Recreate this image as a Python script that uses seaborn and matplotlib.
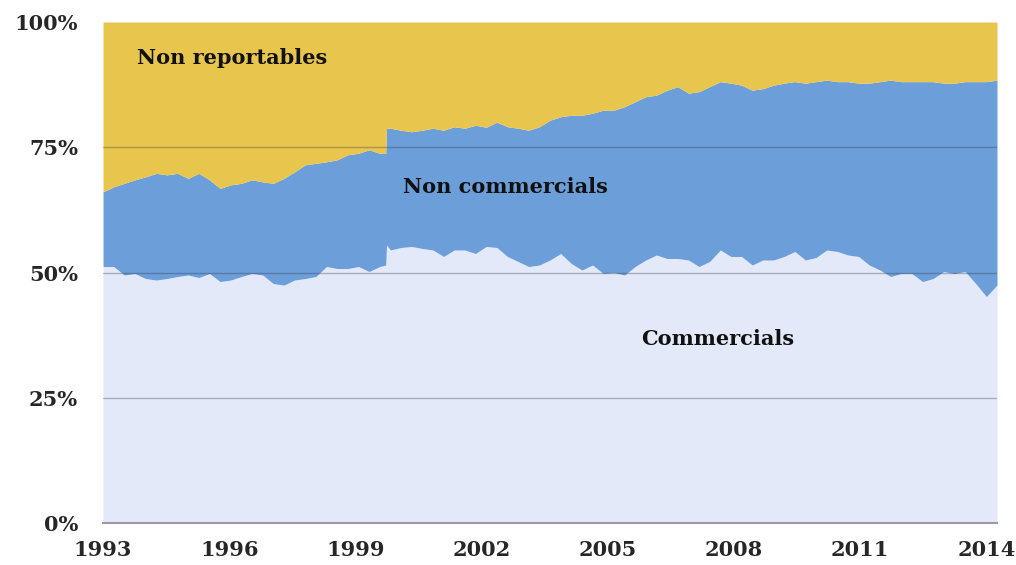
import numpy as np
import pandas as pd
import matplotlib
matplotlib.use("Agg")
import matplotlib.pyplot as plt
import seaborn as sns

# observation dates (decimal years), with the 1999 break kept as two close dates
years = [1993.000, 1993.253, 1993.506, 1993.759, 1994.012, 1994.265, 1994.518, 1994.771,
         1995.024, 1995.277, 1995.530, 1995.783, 1996.036, 1996.289, 1996.542, 1996.795,
         1997.048, 1997.301, 1997.554, 1997.807, 1998.060, 1998.313, 1998.566, 1998.819,
         1999.072, 1999.325, 1999.578, 1999.720, 1999.740, 1999.831,
         2000.084, 2000.337, 2000.590, 2000.843, 2001.096, 2001.349, 2001.602, 2001.855,
         2002.108, 2002.361, 2002.614, 2002.867, 2003.120, 2003.373, 2003.626, 2003.879,
         2004.132, 2004.385, 2004.638, 2004.891, 2005.144, 2005.397, 2005.650, 2005.903,
         2006.156, 2006.409, 2006.662, 2006.915, 2007.168, 2007.421, 2007.674, 2007.927,
         2008.180, 2008.433, 2008.686, 2008.939, 2009.192, 2009.445, 2009.698, 2009.951,
         2010.204, 2010.457, 2010.710, 2010.963, 2011.216, 2011.469, 2011.722, 2011.975,
         2012.228, 2012.481, 2012.734, 2012.987, 2013.240, 2013.493, 2013.746, 2013.999,
         2014.252]

# share of open interest held by commercials (%)
commercials = [51.2, 51.2, 49.5, 49.8, 48.8, 48.5, 48.8, 49.2,
               49.5, 49.0, 49.8, 48.2, 48.5, 49.2, 49.8, 49.5,
               47.8, 47.5, 48.5, 48.8, 49.2, 51.2, 50.8, 50.8,
               51.2, 50.2, 51.2, 51.5, 55.5, 54.5,
               55.0, 55.2, 54.8, 54.5, 53.2, 54.5, 54.5, 53.8,
               55.2, 55.0, 53.2, 52.2, 51.2, 51.5, 52.5, 53.8,
               51.8, 50.5, 51.5, 49.8, 50.0, 49.5, 51.2, 52.5,
               53.5, 52.8, 52.8, 52.5, 51.2, 52.2, 54.5, 53.2,
               53.2, 51.5, 52.5, 52.5, 53.2, 54.2, 52.5, 53.0,
               54.5, 54.2, 53.5, 53.2, 51.5, 50.5, 49.2, 49.8,
               49.8, 48.2, 48.8, 50.2, 49.8, 50.2, 47.8, 45.2,
               47.5]

# commercials + non commercials (%), the rest is non reportables
reportables = [66.1, 67.1, 67.8, 68.5, 69.1, 69.8, 69.5, 69.8,
               68.8, 69.8, 68.5, 66.8, 67.5, 67.8, 68.5, 68.1,
               67.8, 68.8, 70.1, 71.5, 71.8, 72.1, 72.5, 73.5,
               73.8, 74.5, 73.8, 73.8, 78.8, 78.8,
               78.4, 78.1, 78.4, 78.8, 78.4, 79.1, 78.8, 79.4,
               79.0, 80.0, 79.1, 78.8, 78.4, 79.1, 80.4, 81.1,
               81.4, 81.4, 81.8, 82.4, 82.4, 83.1, 84.1, 85.1,
               85.4, 86.4, 87.1, 85.8, 86.1, 87.1, 88.1, 87.8,
               87.4, 86.4, 86.7, 87.4, 87.8, 88.1, 87.8, 88.1,
               88.4, 88.1, 88.1, 87.8, 87.8, 88.1, 88.4, 88.1,
               88.1, 88.1, 88.1, 87.8, 87.8, 88.1, 88.1, 88.1,
               88.4]

tick_years = [1993, 1996, 1999, 2002, 2005, 2008, 2011, 2014]
tick_pcts = [0, 25, 50, 75, 100]

df = pd.DataFrame({"year": years, "comm": commercials, "rep": reportables})
df["noncomm"] = df["rep"] - df["comm"]
df["nonrep"] = 100 - df["rep"]

sns.set_theme(style="white")
plt.rcParams["font.family"] = ["DejaVu Serif"]

fig = plt.figure(figsize=(10.16, 5.65), dpi=100)
ax = fig.add_axes([0.1014, 0.0743, 0.8799, 0.8867])

colors = ["#E3E9F8", "#6C9ED9", "#E8C54C"]
ax.stackplot(df["year"], df["comm"], df["noncomm"], df["nonrep"],
             colors=colors, linewidth=0, zorder=1)

for p in [25, 50, 75]:
    ax.axhline(p, color="#38384a", alpha=0.35, linewidth=1.0, zorder=3)

ax.set_xlim(1993, df["year"].max())
ax.set_ylim(0, 100)
ax.set_xticks(tick_years)
ax.set_xticklabels([str(y) for y in tick_years])
ax.set_yticks(tick_pcts)
ax.set_yticklabels([f"{p}%" for p in tick_pcts])
ax.tick_params(axis="x", length=0, labelsize=15, pad=12)
ax.tick_params(axis="y", length=0, labelsize=15, pad=18)
for lab in ax.get_xticklabels() + ax.get_yticklabels():
    lab.set_fontweight("bold")

sns.despine(ax=ax, left=True, right=True)
ax.spines["top"].set_color("#8a8a8a")
ax.spines["top"].set_linewidth(1.2)
ax.spines["bottom"].set_color("#9a9aa6")
ax.spines["bottom"].set_linewidth(1.5)
ax.grid(False)

txt = dict(fontsize=15, fontweight="bold", color="#111111", zorder=4)
ax.text(1993.81, 92.8, "Non reportables", ha="left", va="center", **txt)
ax.text(2000.14, 67.0, "Non commercials", ha="left", va="center", **txt)
ax.text(2005.79, 36.7, "Commercials", ha="left", va="center", **txt)

fig.savefig("out.png", dpi=100)
